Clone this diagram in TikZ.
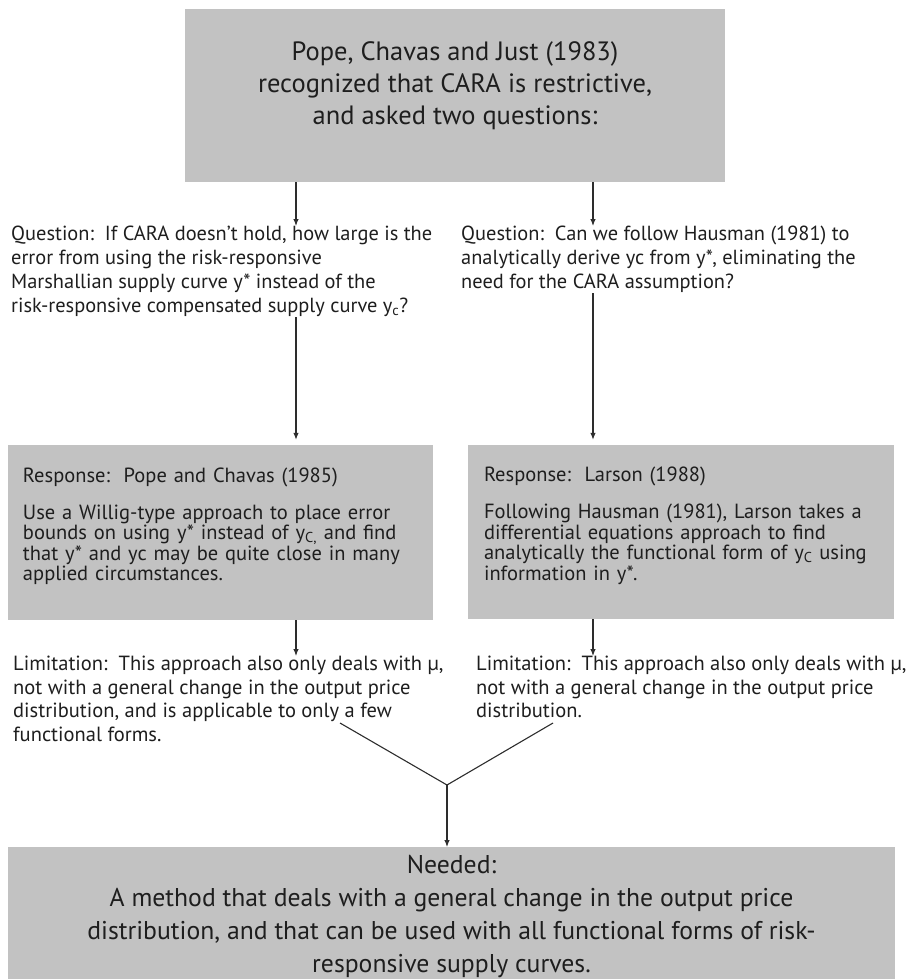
\documentclass[tikz,border=0pt]{standalone}
\usepackage{fontspec}
\setmainfont{PT Sans}
\usepackage{xcolor}
\usetikzlibrary{arrows.meta}
\definecolor{boxgray}{RGB}{194,194,194}
\definecolor{linegray}{RGB}{45,45,45}
\definecolor{inkgray}{RGB}{30,30,30}

\begin{document}
\begin{tikzpicture}[x=1pt,y=-1pt,
  graybox/.style={fill=boxgray, inner sep=0pt, text=inkgray},
  plaintext/.style={inner sep=0pt, anchor=north west, align=left, text=inkgray,
    font=\fontsize{20.5}{23.5}\selectfont},
  flowarrow/.style={draw=linegray, line width=1.1pt, -{Latex[length=7pt,width=5.5pt]}},
  ]
\useasboundingbox (0,0) rectangle (912,979);
\clip (0,0) rectangle (912,979);

% top statement
\node[graybox, minimum width=540, minimum height=173, align=center, text depth=24pt,
  font=\fontsize{26.5}{32}\selectfont] (asked) at (455,95.5)
  {Pope, Chavas and Just (1983)\\ recognized that CARA is restrictive,\\ and asked two questions:};

% the two questions
\node[plaintext, font=\fontsize{20.4}{24}\selectfont] (qleft) at (11,226)
  {Question:\ \ If CARA doesn’t hold, how large is the\\ error from using the risk-responsive\\
   Marshallian supply curve y* instead of the\\ risk-responsive compensated supply curve y\textsubscript{c}?};
\node[plaintext, font=\fontsize{20.4}{24}\selectfont] (qright) at (461,226)
  {Question:\ \ Can we follow Hausman (1981) to\\ analytically derive yc from y*, eliminating the\\
   need for the CARA assumption?};

% responses
\node[graybox, minimum width=425, minimum height=175, text width=395, align=left, text depth=115pt,
  font=\fontsize{20.5}{20.5}\selectfont] (rleft) at (220.5,532.5)
  {Response:\ \ Pope and Chavas (1985)\\[16.5pt] Use a Willig-type approach to place error\\
   bounds on using y* instead of y\textsubscript{C,} and find\\ that y* and yc may be quite close in many\\
   applied circumstances.};
\node[graybox, minimum width=426, minimum height=174, text width=394, align=left, text depth=115pt,
  font=\fontsize{20.5}{20.5}\selectfont] (rright) at (681,532)
  {Response:\ \ Larson (1988)\\[16.5pt] Following Hausman (1981), Larson takes a\\
   differential equations approach to find\\ analytically the functional form of y\textsubscript{C} using\\
   information in y*.};

% limitations
\node[plaintext] (lleft) at (13,656)
  {Limitation:\ \ This approach also only deals with µ,\\ not with a general change in the output price\\
   distribution, and is applicable to only a few\\ functional forms.};
\node[plaintext] (lright) at (476,656)
  {Limitation:\ \ This approach also only deals with µ,\\ not with a general change in the output price\\
   distribution.};

% conclusion
\node[graybox, anchor=north, minimum width=887, inner ysep=8pt, align=center,
  font=\fontsize{25.7}{33}\selectfont] (needed) at (451.5,847)
  {Needed:\\ A method that deals with a general change in the output price\\
   distribution, and that can be used with all functional forms of risk-\\ responsive supply curves.};

\coordinate (lx) at (296,0);
\coordinate (rx) at (593,0);
\coordinate (vleft) at (340,723);
\coordinate (vright) at (553,723);
\coordinate (join) at (447,785);

\draw[flowarrow] (asked.south -| lx) -- (qleft.north -| lx);
\draw[flowarrow] (asked.south -| rx) -- (qright.north -| rx);
\draw[flowarrow, shorten >=5pt] (qleft.south -| lx) -- (rleft.north -| lx);
\draw[flowarrow, shorten >=5pt] (qright.south -| rx) -- (rright.north -| rx);
\draw[flowarrow] (rleft.south -| lx) -- (lleft.north -| lx);
\draw[flowarrow] (rright.south -| rx) -- (lright.north -| rx);
\draw[draw=linegray, line width=1.1pt] (vleft) -- (join) -- (vright);
\draw[flowarrow] (join) -- (needed.north -| join);

\end{tikzpicture}
\end{document}
